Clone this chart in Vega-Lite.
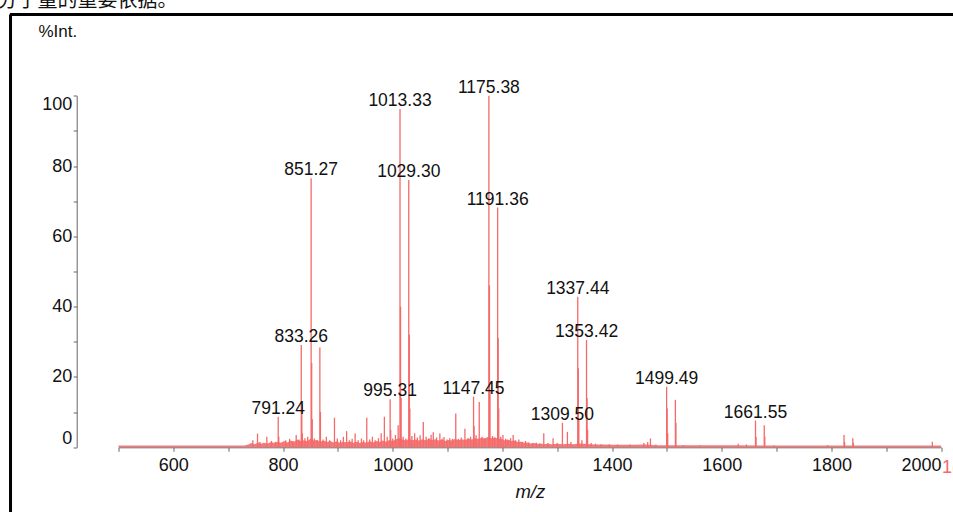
{
  "$schema": "https://vega.github.io/schema/vega-lite/v6.json",
  "autosize": {"type": "none"},
  "padding": {"left": 10.5, "top": 14.5, "right": 0, "bottom": 0},
  "width": 942,
  "height": 497,
  "title": {
    "text": "分子量的重要依据。",
    "anchor": "start",
    "frame": "group",
    "orient": "top",
    "offset": 2,
    "dx": -13,
    "font": "Noto Sans CJK SC",
    "fontSize": 20,
    "fontWeight": "normal",
    "color": "#111111"
  },
  "datasets": {
    "noise": [
      {"mz": 500, "pct": 0.5}, {"mz": 730, "pct": 0.5}, {"mz": 738, "pct": 0.9}, {"mz": 742, "pct": 1.2},
      {"mz": 748, "pct": 0.9}, {"mz": 755, "pct": 1.4}, {"mz": 760, "pct": 1.0}, {"mz": 765, "pct": 1.3},
      {"mz": 772, "pct": 1.1}, {"mz": 778, "pct": 1.5}, {"mz": 784, "pct": 1.2}, {"mz": 790, "pct": 1.6},
      {"mz": 796, "pct": 1.3}, {"mz": 802, "pct": 1.8}, {"mz": 808, "pct": 1.4}, {"mz": 814, "pct": 1.9},
      {"mz": 820, "pct": 1.6}, {"mz": 826, "pct": 2.2}, {"mz": 832, "pct": 1.8}, {"mz": 838, "pct": 2.0},
      {"mz": 844, "pct": 1.7}, {"mz": 850, "pct": 2.4}, {"mz": 856, "pct": 1.9}, {"mz": 862, "pct": 2.1},
      {"mz": 868, "pct": 1.6}, {"mz": 874, "pct": 1.9}, {"mz": 880, "pct": 1.5}, {"mz": 886, "pct": 1.8},
      {"mz": 892, "pct": 1.4}, {"mz": 898, "pct": 1.7}, {"mz": 904, "pct": 1.3}, {"mz": 910, "pct": 1.6},
      {"mz": 916, "pct": 1.4}, {"mz": 922, "pct": 1.7}, {"mz": 928, "pct": 1.3}, {"mz": 934, "pct": 1.6},
      {"mz": 940, "pct": 1.2}, {"mz": 946, "pct": 1.5}, {"mz": 952, "pct": 1.3}, {"mz": 958, "pct": 1.7},
      {"mz": 964, "pct": 1.4}, {"mz": 970, "pct": 1.8}, {"mz": 976, "pct": 1.5}, {"mz": 982, "pct": 1.9},
      {"mz": 988, "pct": 1.6}, {"mz": 994, "pct": 2.1}, {"mz": 1000, "pct": 1.8}, {"mz": 1006, "pct": 2.3},
      {"mz": 1012, "pct": 2.6}, {"mz": 1018, "pct": 2.2}, {"mz": 1024, "pct": 1.9}, {"mz": 1030, "pct": 2.4},
      {"mz": 1036, "pct": 2.0}, {"mz": 1042, "pct": 2.2}, {"mz": 1048, "pct": 1.9}, {"mz": 1054, "pct": 2.3},
      {"mz": 1060, "pct": 2.0}, {"mz": 1066, "pct": 2.4}, {"mz": 1072, "pct": 2.1}, {"mz": 1078, "pct": 2.3},
      {"mz": 1084, "pct": 1.9}, {"mz": 1090, "pct": 2.2}, {"mz": 1096, "pct": 1.8}, {"mz": 1102, "pct": 2.1},
      {"mz": 1108, "pct": 1.9}, {"mz": 1114, "pct": 2.4}, {"mz": 1120, "pct": 2.0}, {"mz": 1126, "pct": 2.3},
      {"mz": 1132, "pct": 2.1}, {"mz": 1138, "pct": 2.5}, {"mz": 1144, "pct": 2.2}, {"mz": 1150, "pct": 2.6},
      {"mz": 1156, "pct": 2.4}, {"mz": 1162, "pct": 2.7}, {"mz": 1168, "pct": 2.5}, {"mz": 1174, "pct": 3.0},
      {"mz": 1180, "pct": 2.6}, {"mz": 1186, "pct": 2.8}, {"mz": 1192, "pct": 2.5}, {"mz": 1198, "pct": 2.4},
      {"mz": 1204, "pct": 2.0}, {"mz": 1210, "pct": 2.2}, {"mz": 1216, "pct": 1.8}, {"mz": 1222, "pct": 1.9},
      {"mz": 1228, "pct": 1.5}, {"mz": 1234, "pct": 1.6}, {"mz": 1240, "pct": 1.3}, {"mz": 1246, "pct": 1.4},
      {"mz": 1252, "pct": 1.1}, {"mz": 1258, "pct": 1.2}, {"mz": 1264, "pct": 1.0}, {"mz": 1270, "pct": 1.1},
      {"mz": 1276, "pct": 0.9}, {"mz": 1282, "pct": 1.0}, {"mz": 1290, "pct": 0.9}, {"mz": 1300, "pct": 1.0},
      {"mz": 1310, "pct": 0.9}, {"mz": 1320, "pct": 1.0}, {"mz": 1330, "pct": 0.9}, {"mz": 1340, "pct": 1.1},
      {"mz": 1350, "pct": 1.0}, {"mz": 1360, "pct": 0.9}, {"mz": 1370, "pct": 0.8}, {"mz": 1385, "pct": 0.8},
      {"mz": 1400, "pct": 0.7}, {"mz": 1420, "pct": 0.7}, {"mz": 1440, "pct": 0.7}, {"mz": 1460, "pct": 0.8},
      {"mz": 1480, "pct": 0.6}, {"mz": 1520, "pct": 0.6}, {"mz": 1560, "pct": 0.55}, {"mz": 1620, "pct": 0.55},
      {"mz": 1700, "pct": 0.5}, {"mz": 2000, "pct": 0.5}
    ],
    "peaks": [
      {"mz": 791.24, "pct": 8.7, "lab": true},
      {"mz": 833.26, "pct": 29.1, "lab": true},
      {"mz": 851.27, "pct": 76.5, "lab": true},
      {"mz": 995.31, "pct": 13.7, "lab": true},
      {"mz": 1013.33, "pct": 96.2, "lab": true},
      {"mz": 1029.30, "pct": 76.0, "lab": true},
      {"mz": 1147.45, "pct": 14.4, "lab": true},
      {"mz": 1175.38, "pct": 100, "lab": true},
      {"mz": 1191.36, "pct": 68.2, "lab": true},
      {"mz": 1309.50, "pct": 7.0, "lab": true},
      {"mz": 1337.44, "pct": 42.8, "lab": true},
      {"mz": 1353.42, "pct": 30.5, "lab": true},
      {"mz": 1499.49, "pct": 17.2, "lab": true},
      {"mz": 1661.55, "pct": 7.6, "lab": true},
      {"mz": 792.24, "pct": 3.0}, {"mz": 834.26, "pct": 12.0}, {"mz": 835.26, "pct": 4.0},
      {"mz": 852.27, "pct": 24.0}, {"mz": 853.27, "pct": 8.0},
      {"mz": 867.2, "pct": 28.4}, {"mz": 868.2, "pct": 10.0},
      {"mz": 996.31, "pct": 5.0}, {"mz": 1014.33, "pct": 40.0}, {"mz": 1015.33, "pct": 14.0},
      {"mz": 1030.30, "pct": 32.0}, {"mz": 1031.30, "pct": 11.0}, {"mz": 1148.45, "pct": 6.0},
      {"mz": 1176.38, "pct": 46.0}, {"mz": 1177.38, "pct": 16.0},
      {"mz": 1192.36, "pct": 31.0}, {"mz": 1193.36, "pct": 11.0},
      {"mz": 1338.44, "pct": 22.5}, {"mz": 1339.44, "pct": 8.0},
      {"mz": 1354.42, "pct": 14.0}, {"mz": 1355.42, "pct": 5.0},
      {"mz": 1500.49, "pct": 11.0}, {"mz": 1501.49, "pct": 4.0},
      {"mz": 1515.48, "pct": 13.5}, {"mz": 1516.48, "pct": 7.0},
      {"mz": 1662.55, "pct": 3.0}, {"mz": 1677.5, "pct": 6.3}, {"mz": 1678.5, "pct": 3.0},
      {"mz": 745, "pct": 2.0}, {"mz": 753.5, "pct": 3.9}, {"mz": 758, "pct": 1.5}, {"mz": 770.5, "pct": 3.0},
      {"mz": 779, "pct": 1.8}, {"mz": 786, "pct": 1.6}, {"mz": 805, "pct": 2.0}, {"mz": 812, "pct": 2.4},
      {"mz": 818, "pct": 1.8}, {"mz": 824, "pct": 3.5}, {"mz": 829, "pct": 2.2}, {"mz": 840, "pct": 2.6},
      {"mz": 845, "pct": 3.0}, {"mz": 857, "pct": 2.5}, {"mz": 862, "pct": 2.0}, {"mz": 873, "pct": 2.2},
      {"mz": 879, "pct": 3.0}, {"mz": 885, "pct": 2.0}, {"mz": 893.8, "pct": 8.4}, {"mz": 899, "pct": 2.5},
      {"mz": 905, "pct": 2.0}, {"mz": 910, "pct": 3.0}, {"mz": 916, "pct": 4.6}, {"mz": 921, "pct": 2.0},
      {"mz": 926, "pct": 2.4}, {"mz": 931.5, "pct": 3.9}, {"mz": 937, "pct": 2.0}, {"mz": 943, "pct": 2.5},
      {"mz": 947, "pct": 2.0}, {"mz": 952.7, "pct": 8.4}, {"mz": 958, "pct": 2.2}, {"mz": 963, "pct": 3.0},
      {"mz": 968, "pct": 2.0}, {"mz": 974, "pct": 2.6}, {"mz": 979, "pct": 4.0}, {"mz": 984.8, "pct": 8.7},
      {"mz": 990, "pct": 3.0}, {"mz": 1000, "pct": 2.5}, {"mz": 1005, "pct": 3.5}, {"mz": 1010, "pct": 6.3},
      {"mz": 1019, "pct": 3.0}, {"mz": 1024, "pct": 2.5}, {"mz": 1035, "pct": 3.2}, {"mz": 1040, "pct": 4.0},
      {"mz": 1045, "pct": 2.8}, {"mz": 1050, "pct": 3.4}, {"mz": 1055.8, "pct": 7.2}, {"mz": 1061, "pct": 3.0},
      {"mz": 1066, "pct": 2.6}, {"mz": 1070, "pct": 3.6}, {"mz": 1074, "pct": 4.3}, {"mz": 1080, "pct": 2.8},
      {"mz": 1086, "pct": 3.9}, {"mz": 1090, "pct": 2.4}, {"mz": 1093.5, "pct": 2.9}, {"mz": 1099, "pct": 2.2},
      {"mz": 1104, "pct": 2.6}, {"mz": 1109, "pct": 2.4}, {"mz": 1115, "pct": 9.6}, {"mz": 1120, "pct": 2.4},
      {"mz": 1125, "pct": 2.8}, {"mz": 1131.7, "pct": 5.3}, {"mz": 1137, "pct": 2.6}, {"mz": 1142, "pct": 3.0},
      {"mz": 1152, "pct": 3.4}, {"mz": 1157.8, "pct": 12.9}, {"mz": 1163, "pct": 3.0}, {"mz": 1168, "pct": 2.6},
      {"mz": 1182, "pct": 3.2}, {"mz": 1186, "pct": 2.8}, {"mz": 1197, "pct": 3.0}, {"mz": 1201, "pct": 3.5},
      {"mz": 1206, "pct": 2.4}, {"mz": 1210, "pct": 2.0}, {"mz": 1215, "pct": 2.6}, {"mz": 1219.7, "pct": 3.5},
      {"mz": 1224, "pct": 2.0}, {"mz": 1230, "pct": 2.2}, {"mz": 1236, "pct": 1.6}, {"mz": 1242, "pct": 1.8},
      {"mz": 1248, "pct": 1.4}, {"mz": 1255, "pct": 1.2}, {"mz": 1262, "pct": 1.3}, {"mz": 1268, "pct": 1.0},
      {"mz": 1275.5, "pct": 4.0}, {"mz": 1283, "pct": 1.2}, {"mz": 1292.5, "pct": 2.6}, {"mz": 1300, "pct": 1.2},
      {"mz": 1318.6, "pct": 4.4}, {"mz": 1325, "pct": 1.5}, {"mz": 1345, "pct": 2.0}, {"mz": 1362, "pct": 1.2},
      {"mz": 1370, "pct": 1.0}, {"mz": 1380, "pct": 0.9}, {"mz": 1395, "pct": 0.9}, {"mz": 1410, "pct": 0.8},
      {"mz": 1433, "pct": 0.8}, {"mz": 1458, "pct": 1.2}, {"mz": 1465, "pct": 1.5}, {"mz": 1470, "pct": 2.5},
      {"mz": 1480, "pct": 0.8}, {"mz": 1530, "pct": 0.6}, {"mz": 1560, "pct": 0.5}, {"mz": 1630, "pct": 1.0},
      {"mz": 1645, "pct": 0.8}, {"mz": 1695, "pct": 0.5}, {"mz": 1793, "pct": 0.6},
      {"mz": 1823, "pct": 3.5}, {"mz": 1824, "pct": 1.5}, {"mz": 1839, "pct": 2.6}, {"mz": 1840, "pct": 1.2},
      {"mz": 1984, "pct": 1.6}
    ]
  },
  "layer": [
    {
      "data": {"name": "noise"},
      "mark": {"type": "area", "color": "#f46a6a", "opacity": 0.9, "interpolate": "linear"},
      "encoding": {
        "x": {
          "field": "mz",
          "type": "quantitative",
          "scale": {"domain": [500, 2000], "range": [108, 930.6], "nice": false, "zero": false},
          "axis": {
            "title": "m/z",
            "values": [500, 550, 600, 650, 700, 750, 800, 850, 900, 950, 1000, 1050, 1100, 1150, 1200, 1250, 1300, 1350, 1400, 1450, 1500, 1550, 1600, 1650, 1700, 1750, 1800, 1850, 1900, 1950, 2000],
            "format": "d",
            "labelExpr": "datum.value % 200 === 0 ? datum.label : ''",
            "labelOverlap": false,
            "labelFlush": true,
            "offset": -64.2,
            "grid": false,
            "domainColor": "#666666",
            "tickColor": "#666666",
            "tickSize": 4,
            "labelFont": "Liberation Sans",
            "labelFontSize": 18,
            "labelColor": "#111111",
            "labelPadding": 5,
            "titleFont": "Liberation Sans",
            "titleFontSize": 18.5,
            "titleFontStyle": "italic",
            "titleFontWeight": "normal",
            "titleColor": "#111111",
            "titlePadding": 8
          }
        },
        "y": {
          "field": "pct",
          "type": "quantitative",
          "scale": {"domain": [0, 100], "range": [432.8, 81.2], "nice": false},
          "axis": {
            "title": "%Int.",
            "values": [0, 5, 10, 15, 20, 25, 30, 35, 40, 45, 50, 55, 60, 65, 70, 75, 80, 85, 90, 95, 100],
            "labelExpr": "datum.value % 20 === 0 ? datum.label : ''",
            "labelOverlap": false,
            "labelFlush": true,
            "offset": -66.2,
            "grid": false,
            "domainColor": "#666666",
            "tickColor": "#666666",
            "tickSize": 3.5,
            "labelFont": "Liberation Sans",
            "labelFontSize": 18,
            "labelColor": "#111111",
            "labelPadding": 1.5,
            "titleFont": "Liberation Sans",
            "titleFontSize": 17,
            "titleFontWeight": "normal",
            "titleColor": "#111111",
            "titleAngle": 0,
            "titleAlign": "right",
            "titleBaseline": "alphabetic",
            "titleX": 0,
            "titleY": 22
          }
        }
      }
    },
    {
      "data": {"name": "peaks"},
      "mark": {"type": "rule", "color": "#f46a6a", "strokeWidth": 1.3},
      "encoding": {
        "x": {"field": "mz", "type": "quantitative"},
        "y": {"field": "pct", "type": "quantitative"},
        "y2": {"datum": 0}
      }
    },
    {
      "data": {"name": "peaks"},
      "transform": [{"filter": "datum.lab"}],
      "mark": {"type": "text", "align": "center", "baseline": "alphabetic", "dy": -3, "font": "Liberation Sans", "fontSize": 17.5, "color": "#111111"},
      "encoding": {
        "x": {"field": "mz", "type": "quantitative"},
        "y": {"field": "pct", "type": "quantitative"},
        "text": {"field": "mz", "type": "quantitative", "format": ".2f"}
      }
    },
    {
      "data": {"values": [{"edge": "left"}]},
      "mark": {"type": "rule", "color": "#000000", "strokeWidth": 3},
      "encoding": {
        "x": {"datum": 303.1, "type": "quantitative"},
        "y": {"datum": 123.1, "type": "quantitative"},
        "y2": {"datum": -40}
      }
    },
    {
      "data": {"values": [{"edge": "top"}]},
      "mark": {"type": "rule", "color": "#000000", "strokeWidth": 3},
      "encoding": {
        "x": {"datum": 302.0, "type": "quantitative"},
        "x2": {"datum": 2050},
        "y": {"datum": 123.1, "type": "quantitative"}
      }
    },
    {
      "data": {"values": [{"note": "1("}]},
      "mark": {"type": "text", "align": "left", "baseline": "alphabetic", "dx": 1, "dy": 26, "font": "Liberation Sans", "fontSize": 18, "color": "#f46a6a"},
      "encoding": {
        "x": {"datum": 2000, "type": "quantitative"},
        "y": {"datum": 0, "type": "quantitative"},
        "text": {"field": "note", "type": "nominal"}
      }
    }
  ],
  "config": {
    "view": {"stroke": null},
    "font": "Liberation Sans"
  }
}
